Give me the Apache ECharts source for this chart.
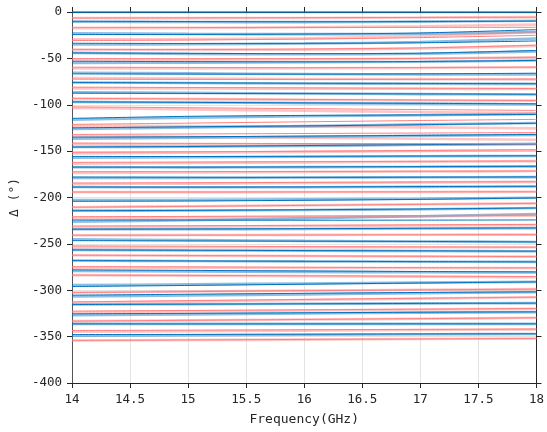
<!DOCTYPE html>
<html>
<head>
<meta charset="utf-8">
<script src="https://cdn.jsdelivr.net/npm/echarts@6/dist/echarts.min.js"></script>
<style>
  html, body { margin: 0; padding: 0; background: #ffffff; }
  #chart { width: 547px; height: 432px; }
</style>
</head>
<body>
<div id="chart"></div>
<script>
// Frequency sample points (GHz)
const freq = [14, 15, 16, 17, 18];

// Axis ticks
const xTicks = { min: 14, max: 18, step: 0.5 };
const yTicks = { min: -400, max: 0, step: 50 };

// Even phase states: thin (dark blue) traces, degrees
const blueThin = [
  [0, 0, 0, 0, 0],
  [-10, -10.3, -10.5, -10.3, -9.8],
  [-24.3, -24.2, -23.8, -22.6, -19],
  [-33.7, -33.9, -33.8, -33.2, -31.2],
  [-44.1, -44.6, -44.9, -44.4, -41.5],
  [-53.1, -53.5, -53.7, -53.4, -52.2],
  [-66.7, -66.9, -67, -66.7, -66],
  [-76, -76.4, -76.8, -77, -77.3],
  [-87.5, -87.8, -88, -88.3, -88.7],
  [-96.9, -97.4, -98, -98.5, -99],
  [-114.7, -112.5, -111.5, -111, -110.5],
  [-124.9, -123.8, -122.8, -121.5, -120],
  [-134.9, -134.5, -133.8, -133, -132],
  [-145.6, -145, -144, -143, -142.3],
  [-155.7, -155.8, -155.6, -155.3, -155],
  [-167.2, -167.3, -167, -166.7, -166.4],
  [-177.9, -178.2, -178.3, -178.1, -177.8],
  [-188.7, -188.8, -188.6, -188.2, -187.9],
  [-204.1, -203.8, -203, -202, -200.5],
  [-214.2, -213.9, -213.2, -212.4, -211.3],
  [-224.2, -224.3, -224.5, -224.4, -224.2],
  [-234.2, -234, -233.6, -233.2, -232.8],
  [-246.5, -246.8, -247.1, -247.4, -247.9],
  [-256.5, -256.9, -257.2, -257.5, -257.9],
  [-268, -268.4, -268.8, -269.1, -269.4],
  [-278, -278.6, -279.2, -279.8, -280.2],
  [-296, -294.8, -293.5, -292.2, -291],
  [-305.3, -304.3, -303.3, -302.4, -301.7],
  [-315.4, -315, -314.6, -314.2, -313.9],
  [-325.4, -324.9, -324.3, -323.7, -323.3],
  [-336.2, -336.3, -336.3, -336.2, -336.2],
  [-347.7, -347.6, -347.4, -347.1, -346.9]
];

// Even phase states: wide (light blue) traces, degrees
const blueWide = [
  [0, 0, 0, 0, 0],
  [-10.5, -10.8, -10.9, -10.4, -9.5],
  [-23, -23.6, -23.9, -23.5, -21.5],
  [-35, -34.8, -34, -32.4, -28.6],
  [-44.1, -45.2, -45.6, -45, -42.5],
  [-54.8, -54.6, -54.2, -53.6, -52.3],
  [-65.5, -66.2, -66.9, -67.3, -67.2],
  [-76, -76.6, -77.1, -77.4, -77.5],
  [-86.5, -87.2, -87.9, -88.5, -88.9],
  [-96.9, -97.5, -98.2, -98.8, -99.4],
  [-116, -114, -112.4, -111.2, -109.8],
  [-126, -124.5, -123, -121.2, -119.6],
  [-136.5, -135.5, -134.5, -133.5, -132.5],
  [-145.6, -145.2, -144.3, -143.2, -142.1],
  [-157, -156.6, -156, -155.5, -155.2],
  [-167.2, -167.5, -167.3, -166.9, -166.4],
  [-179, -178.8, -178.5, -178.2, -178],
  [-188.7, -189, -188.9, -188.5, -188.2],
  [-202.8, -202.6, -202, -201.3, -200.2],
  [-214.2, -214, -213.5, -212.6, -211.3],
  [-226, -224.5, -222.5, -220.2, -217.8],
  [-234.2, -234.3, -234, -233.5, -233],
  [-245.2, -246, -246.8, -247.4, -247.9],
  [-256.5, -257, -257.4, -257.7, -257.9],
  [-268, -268.5, -268.9, -269.2, -269.4],
  [-279.3, -279.8, -280.2, -280.6, -280.9],
  [-294.5, -293.6, -292.7, -291.8, -291],
  [-306.8, -305.6, -304.4, -303.2, -302.2],
  [-315.4, -315, -314.6, -314.2, -313.9],
  [-326.8, -326, -325, -324.1, -323.6],
  [-336.2, -336.3, -336.3, -336.2, -336.2],
  [-349, -348.5, -348, -347.5, -347.2]
];

// Odd phase states: thin (red) traces, degrees
const redThin = [
  [-6.5, -6.3, -6.1, -5.9, -5.7],
  [-16.5, -16.6, -16.7, -16.6, -16.5],
  [-30.8, -30.2, -29.2, -27.6, -25.1],
  [-40.5, -40.4, -39.9, -38.7, -35.8],
  [-50.2, -50.4, -50.4, -50, -48.8],
  [-59.5, -59.8, -60, -59.9, -59.5],
  [-72.4, -72.6, -72.7, -72.6, -72.4],
  [-81, -81.4, -81.8, -82.2, -82.5],
  [-93.2, -93.7, -94.3, -94.9, -95.4],
  [-102.3, -103.2, -104.2, -105.2, -106.1],
  [-121.2, -119.8, -118.4, -117, -115.8],
  [-132, -131.5, -131, -130.5, -130],
  [-141.3, -141.6, -141.8, -141.9, -142],
  [-151.3, -150.8, -150.1, -149.3, -148.5],
  [-162.1, -161.8, -161.4, -161, -160.7],
  [-172.2, -172.1, -171.9, -171.7, -171.5],
  [-184.4, -184.1, -183.7, -183.3, -183],
  [-194.1, -194.1, -194, -193.9, -193.8],
  [-210.5, -209.6, -208.5, -207.4, -206.3],
  [-220.7, -220.4, -220, -219.5, -219],
  [-230.7, -230.4, -230, -229.5, -229],
  [-240.7, -240.6, -240.4, -240.2, -240],
  [-252.2, -252.5, -252.9, -253.3, -253.6],
  [-262.2, -262.6, -263, -263.4, -263.7],
  [-274.5, -274.8, -275.2, -275.6, -275.9],
  [-283.7, -284, -284.4, -284.8, -285.2],
  [-302.5, -301.5, -300.5, -299.6, -298.8],
  [-312.5, -311.2, -309.9, -308.6, -307.4],
  [-322.5, -321.8, -321.1, -320.4, -319.7],
  [-333.3, -332.4, -331.5, -330.6, -329.7],
  [-343.4, -343, -342.6, -342.2, -341.9],
  [-354.1, -353.6, -353, -352.5, -352]
];

// Odd phase states: wide (pink) traces, degrees
const redWide = [
  [-6.5, -6.6, -6.4, -6, -5.5],
  [-17.5, -17.2, -16.5, -15.3, -13.6],
  [-29.5, -29.2, -28.4, -26, -21.5],
  [-40.5, -40.8, -40.6, -39.2, -36.5],
  [-51.5, -51.4, -51, -50.2, -48.8],
  [-60.8, -60.8, -60.6, -60.2, -59.5],
  [-71.2, -71.8, -72.2, -72.4, -72.6],
  [-82.3, -82.5, -82.7, -82.8, -82.9],
  [-93.2, -93.9, -94.6, -95.2, -95.6],
  [-103.5, -105, -106.5, -107.8, -109],
  [-122.5, -123, -123.6, -124.4, -125.5],
  [-133.5, -134.5, -135.6, -136.7, -137.8],
  [-142.5, -142.6, -142.7, -142.8, -142.9],
  [-152.5, -151.7, -150.8, -149.9, -149],
  [-163.5, -162.8, -162.1, -161.4, -160.8],
  [-173.5, -173, -172.5, -172, -171.5],
  [-185.5, -185, -184.4, -183.7, -183.1],
  [-194.1, -194.2, -194.1, -194, -193.8],
  [-210.5, -209.4, -208.3, -207.3, -206.3],
  [-222, -221.4, -220.8, -220.2, -219.6],
  [-232, -231.4, -230.8, -230.2, -229.6],
  [-240.7, -240.5, -240.3, -240.1, -240],
  [-253.5, -253.6, -253.6, -253.6, -253.6],
  [-262.2, -262.7, -263.1, -263.5, -263.8],
  [-275.8, -275.9, -276, -276, -276],
  [-283.7, -284.2, -284.8, -285.4, -286],
  [-302.5, -301.4, -300.4, -299.5, -298.8],
  [-313.5, -312, -310.5, -309, -307.6],
  [-323.8, -322.8, -321.8, -320.8, -319.9],
  [-333.3, -332.5, -331.6, -330.7, -329.7],
  [-344.8, -344.2, -343.5, -342.8, -342.2],
  [-354.1, -353.7, -353.2, -352.6, -352]
];

const FONT = 'DejaVu Sans Mono';
const TEXT = '#262626';

function traces(rows, color, width, z) {
  return rows.map(function (row) {
    return {
      type: 'line',
      data: row.map(function (v, i) { return [freq[i], v]; }),
      showSymbol: false,
      symbol: 'none',
      smooth: 0.3,
      silent: true,
      z: z,
      lineStyle: { color: color, width: width }
    };
  });
}

const series = [].concat(
  traces(blueWide, 'rgba(0,114,189,0.45)', 2.6, 2),
  traces(redWide, 'rgba(255,110,110,0.4)', 2.6, 2),
  traces(blueThin, '#0072BD', 1, 3),
  traces(redThin, '#FF7F7F', 1, 3)
);

const chart = echarts.init(document.getElementById('chart'), null, { renderer: 'canvas' });
chart.setOption({
  animation: false,
  backgroundColor: '#ffffff',
  grid: { left: 71, right: 6, top: 12, bottom: 49, containLabel: false },
  xAxis: [
    {
      type: 'value', min: xTicks.min, max: xTicks.max, interval: xTicks.step,
      position: 'bottom',
      name: 'Frequency(GHz)', nameLocation: 'middle', nameGap: 30,
      nameTextStyle: { fontFamily: FONT, fontSize: 13, color: TEXT },
      axisLine: { show: true, onZero: false, lineStyle: { color: TEXT, width: 1 } },
      axisTick: { show: true, inside: false, length: 5, lineStyle: { color: TEXT } },
      axisLabel: { fontFamily: FONT, fontSize: 12.5, color: TEXT, margin: 10 },
      splitLine: { show: true, lineStyle: { color: '#e3e3e3', width: 1 } }
    },
    {
      type: 'value', min: xTicks.min, max: xTicks.max, interval: xTicks.step,
      position: 'top',
      axisLine: { show: true, onZero: false, lineStyle: { color: TEXT, width: 1 } },
      axisTick: { show: true, inside: false, length: 5, lineStyle: { color: TEXT } },
      axisLabel: { show: false },
      splitLine: { show: false }
    }
  ],
  yAxis: [
    {
      type: 'value', min: yTicks.min, max: yTicks.max, interval: yTicks.step,
      position: 'left',
      name: 'Δ (°)', nameLocation: 'middle', nameGap: 47, nameRotate: 90,
      nameTextStyle: { fontFamily: FONT, fontSize: 13, color: TEXT },
      axisLine: { show: true, onZero: false, lineStyle: { color: '#555555', width: 1 } },
      axisTick: { show: true, inside: false, length: 5, lineStyle: { color: TEXT } },
      axisLabel: { fontFamily: FONT, fontSize: 12.5, color: TEXT, margin: 10 },
      splitLine: { show: true, lineStyle: { color: '#e3e3e3', width: 1 } }
    },
    {
      type: 'value', min: yTicks.min, max: yTicks.max, interval: yTicks.step,
      position: 'right',
      axisLine: { show: true, onZero: false, lineStyle: { color: TEXT, width: 1 } },
      axisTick: { show: true, inside: false, length: 5, lineStyle: { color: TEXT } },
      axisLabel: { show: false },
      splitLine: { show: false }
    }
  ],
  series: series
});
</script>
</body>
</html>
